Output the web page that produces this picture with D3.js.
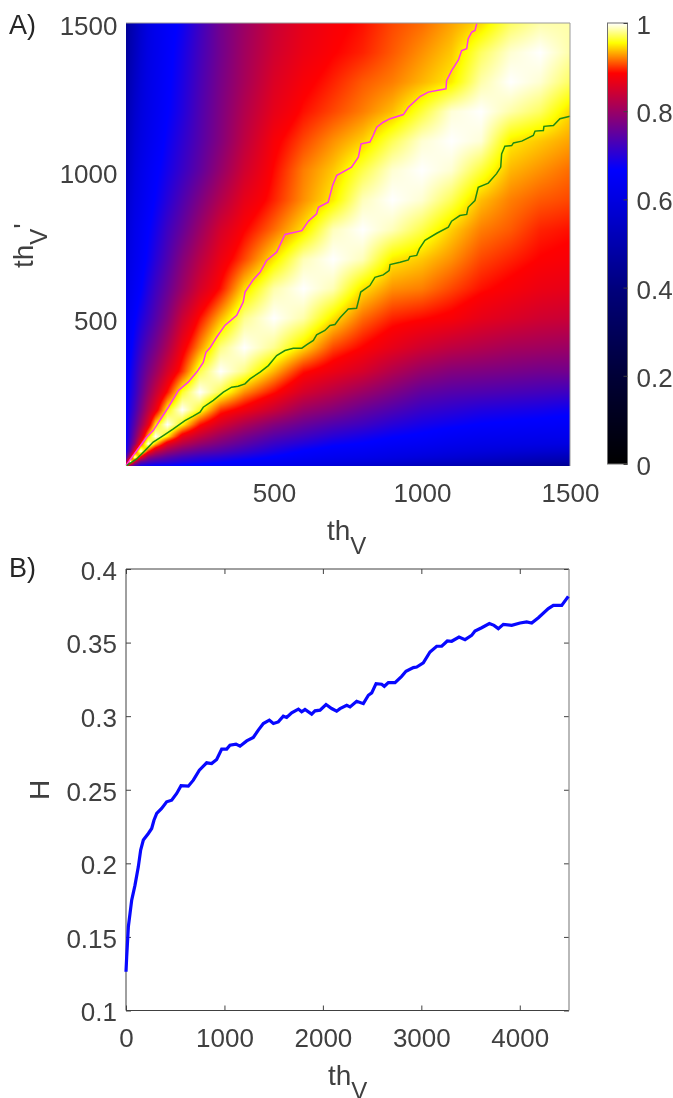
<!DOCTYPE html>
<html><head><meta charset="utf-8">
<script src="https://cdn.jsdelivr.net/npm/d3@7/dist/d3.min.js"></script>
<style>
html,body{margin:0;padding:0;background:#fff;width:673px;height:1098px;overflow:hidden}
#wrap{position:relative;width:673px;height:1098px;overflow:hidden}
canvas,svg{position:absolute;left:0;top:0}
text{font-family:"Liberation Sans",Arial,sans-serif;fill:#404040}
</style></head><body><div id="wrap"></div>
<script>
// A) similarity matrix nodes (symmetric, lower triangle by row)
const nodes=[0,15,30,50,75,100,140,190,250,320,400,500,600,700,800,900,1000,1100,1200,1300,1400,1500];
const matrixRows=[
[1],
[.78,1],
[.72,.85,1],
[.68,.76,.88,1],
[.67,.735,.79,.90,1],
[.665,.72,.77,.84,.94,1],
[.665,.71,.745,.80,.865,.95,1],
[.66,.695,.725,.77,.825,.87,.955,1],
[.655,.685,.71,.75,.795,.835,.89,.962,1],
[.645,.675,.70,.735,.77,.80,.85,.90,.968,1],
[.635,.66,.685,.715,.745,.77,.815,.875,.925,.978,1],
[.62,.645,.665,.69,.715,.74,.78,.84,.89,.935,.98,1],
[.60,.625,.645,.665,.695,.72,.755,.80,.85,.89,.945,.985,1],
[.58,.61,.63,.65,.675,.70,.735,.78,.825,.87,.905,.948,.987,1],
[.56,.595,.62,.64,.665,.685,.72,.755,.80,.85,.885,.915,.947,.988,1],
[.54,.58,.605,.625,.65,.67,.70,.735,.775,.82,.865,.895,.925,.95,.988,1],
[.52,.56,.59,.615,.64,.66,.685,.715,.75,.795,.845,.888,.92,.94,.968,.992,1],
[.505,.545,.575,.60,.625,.645,.675,.705,.74,.78,.83,.88,.905,.925,.942,.97,.992,1],
[.49,.53,.56,.59,.615,.635,.665,.695,.735,.775,.82,.865,.89,.905,.92,.937,.965,.993,1],
[.475,.515,.545,.58,.61,.63,.66,.69,.73,.77,.81,.855,.88,.895,.91,.92,.935,.95,.985,1],
[.455,.50,.53,.57,.605,.625,.655,.685,.725,.765,.805,.845,.87,.885,.895,.91,.925,.94,.972,.992,1],
[.44,.49,.52,.56,.60,.625,.65,.677,.72,.765,.80,.84,.865,.88,.89,.905,.915,.93,.945,.972,.985,.985]
];
const greenX=[2,36,64,92,126,160,199,227,250,261,295,329,357,379,402,419,453,481,509,537,565,594,611,633,644,672,689,706,723,751,779,793,824,841,869,889,892,926,954,959,982,991,1010,1050,1089,1100,1128,1151,1156,1179,1190,1224,1252,1266,1269,1280,1303,1309,1337,1376,1382,1410,1412,1444,1466,1500];
const greenY=[1,24,52,81,103,126,154,169,182,199,222,250,267,270,278,295,318,340,374,391,399,399,411,425,444,459,476,479,502,532,534,589,611,639,647,662,682,690,698,709,713,735,764,788,809,829,848,852,876,899,944,958,990,1012,1057,1083,1085,1094,1100,1119,1134,1136,1150,1153,1176,1184];
const magentaX=[0,36,70,92,121,143,177,210,239,261,270,284,306,334,374,396,402,430,453,475,509,537,594,616,644,650,683,698,712,723,762,785,794,824,835,847,869,892,937,954,993,1021,1081,1083,1100,1123,1134,1151,1156,1168,1179,1185];
const magentaY=[2,52,98,120,165,199,256,284,318,351,385,400,436,476,510,555,589,631,656,696,724,784,797,829,854,876,893,950,984,990,1012,1046,1091,1097,1119,1147,1164,1176,1190,1215,1251,1266,1277,1305,1339,1375,1407,1413,1447,1469,1475,1498];
const mapTicksXY=[500,1000,1500];
const cbTicks=[0,.2,.4,.6,.8,1];
const cmapStops=[0,.2,.4,.6,.667,.886,.955,1];
const cmapColors=["#000000","#000037","#00007d","#0000e1","#0000ff","#ff0000","#ffff00","#ffffff"];
// B) H curve
const thV=[0,7,24,41,58,91,125,149,176,227,261,284,312,362,413,464,515,559,633,684,745,819,870,921,972,1023,1056,1117,1158,1226,1293,1344,1395,1456,1497,1547,1598,1632,1683,1751,1784,1818,1886,1920,1971,2032,2089,2140,2174,2242,2276,2343,2411,2462,2496,2540,2597,2624,2665,2733,2800,2844,2919,2953,3020,3088,3156,3207,3264,3308,3383,3444,3511,3545,3613,3691,3738,3782,3833,3918,4003,4070,4121,4189,4290,4341,4426,4493];
const H=[.1263,.1365,.157,.166,.175,.185,.1976,.209,.2158,.2203,.2237,.2293,.2339,.2373,.2418,.2429,.2475,.2527,.2524,.2565,.2633,.2683,.2678,.2706,.2776,.2776,.2803,.281,.2796,.2832,.2855,.2905,.295,.2973,.295,.2961,.3,.2991,.3023,.3048,.303,.3045,.3014,.3036,.3041,.3079,.3052,.3034,.3051,.3074,.3063,.3101,.3085,.3142,.3158,.3221,.3217,.3203,.3228,.3228,.3271,.3305,.333,.3334,.3362,.3436,.3475,.3475,.3511,.3509,.3538,.352,.3549,.3579,.3601,.3629,.3617,.3595,.3624,.3617,.3633,.364,.3633,.3669,.3731,.3753,.3753,.3814];
const hTicksX=[0,1000,2000,3000,4000];
const hTicksY=[.1,.15,.2,.25,.3,.35,.4];

const A={l:126,r:570,t:23,b:466}, B={l:126,r:569,t:569,b:1010.5}, C={l:607.5,r:627.5,t:23,b:464};
const x=d3.scaleLinear().domain([0,1500]).range([A.l,A.r]);
const y=d3.scaleLinear().domain([0,1500]).range([A.b,A.t]);
const color=d3.scaleLinear().domain(cmapStops).range(cmapColors).clamp(true);
const wrap=d3.select("#wrap");
const val=(i,j)=>i>=j?matrixRows[i][j]:matrixRows[j][i];
const cellIndex=v=>Math.min(nodes.length-2,Math.max(0,d3.bisectRight(nodes,v)-1));
function sample(u,v){
  const i=cellIndex(u),j=cellIndex(v);
  const fu=(u-nodes[i])/(nodes[i+1]-nodes[i]),fv=(v-nodes[j])/(nodes[j+1]-nodes[j]);
  return d3.interpolateNumber(
    d3.interpolateNumber(val(i,j),val(i+1,j))(fu),
    d3.interpolateNumber(val(i,j+1),val(i+1,j+1))(fu))(fv);
}
const W=A.r-A.l,Hh=A.b-A.t;
const cv=wrap.append("canvas").attr("width",W).attr("height",Hh)
  .style("left",A.l+"px").style("top",A.t+"px").node();
const ctx=cv.getContext("2d");
for(let px=0;px<W;px++)for(let py=0;py<Hh;py++){
  ctx.fillStyle=color(sample(x.invert(A.l+px+.5),y.invert(A.t+py+.5)));
  ctx.fillRect(px,py,1,1);
}
const cc=wrap.append("canvas").attr("width",C.r-C.l+1).attr("height",C.b-C.t)
  .style("left",Math.floor(C.l)+"px").style("top",C.t+"px").node();
const cctx=cc.getContext("2d");
const cy=d3.scaleLinear().domain([0,1]).range([C.b,C.t]);
for(let py=0;py<C.b-C.t;py++){cctx.fillStyle=color(cy.invert(C.t+py+.5));cctx.fillRect(0,py,30,1);}

const svg=wrap.append("svg").attr("width",673).attr("height",1098);
const fs=26;
function styleAxis(g,dy){
  g.selectAll("text").style("font-size",fs+"px").attr("fill","#404040").style("font-family",'"Liberation Sans",Arial,sans-serif');
  if(dy)g.selectAll("text").attr("dy",dy);
  g.selectAll("line").attr("stroke","#404040").attr("stroke-width",1);
  g.select(".domain").remove();
}
// A axes
const lineGen=(xs,ys)=>d3.line().x((d,i)=>x(xs[i])).y((d,i)=>y(ys[i]))(xs);
svg.append("path").attr("d",lineGen(magentaX,magentaY)).attr("fill","none").attr("stroke","#ff33ee").attr("stroke-width",1.5);
svg.append("path").attr("d",lineGen(greenX,greenY)).attr("fill","none").attr("stroke","#1f8a12").attr("stroke-width",1.5);
svg.append("g").attr("transform",`translate(0,${A.b})`)
  .call(d3.axisBottom(x).tickValues(mapTicksXY).tickFormat(d3.format("d")).tickSize(0).tickPadding(18)).call(g=>styleAxis(g));
svg.append("g").attr("transform",`translate(${A.l},0)`)
  .call(d3.axisLeft(y).tickValues(mapTicksXY).tickFormat(d3.format("d")).tickSize(0).tickPadding(8.5)).call(g=>styleAxis(g,"0.44em"));
svg.append("path").attr("d",`M${A.l},${A.t}H${A.r}V${A.b}`).attr("fill","none").attr("stroke","#9a9a9a").attr("stroke-width",1);
// colorbar
svg.append("rect").attr("x",C.l).attr("y",C.t).attr("width",C.r-C.l).attr("height",C.b-C.t).attr("fill","none").attr("stroke","#707070").attr("stroke-width",1);
svg.append("g").attr("transform",`translate(${C.r},0)`)
  .call(d3.axisRight(cy).tickValues(cbTicks).tickFormat(d3.format("~g")).tickSize(-4).tickPadding(9)).call(g=>styleAxis(g,"0.4em"));
// B axes
const bx=d3.scaleLinear().domain([0,4500]).range([B.l,B.r]);
const by=d3.scaleLinear().domain([.1,.4]).range([B.b,B.t]);
svg.append("g").attr("transform",`translate(0,${B.b})`)
  .call(d3.axisBottom(bx).tickValues(hTicksX).tickFormat(d3.format("d")).tickSize(-5).tickPadding(18)).call(g=>styleAxis(g));
svg.append("g").attr("transform",`translate(${B.l},0)`)
  .call(d3.axisLeft(by).tickValues(hTicksY).tickFormat(d3.format("~g")).tickSize(-5).tickPadding(9)).call(g=>styleAxis(g,"0.4em"));
svg.append("g").attr("transform",`translate(0,${B.t})`)
  .call(d3.axisTop(bx).tickValues(hTicksX).tickFormat("").tickSize(-5)).call(g=>styleAxis(g));
svg.append("g").attr("transform",`translate(${B.r},0)`)
  .call(d3.axisRight(by).tickValues(hTicksY).tickFormat("").tickSize(-5)).call(g=>styleAxis(g));
svg.append("path").attr("d",`M${B.l},${B.t}V${B.b}H${B.r}`).attr("fill","none").attr("stroke","#404040").attr("stroke-width",1);
svg.append("path").attr("d",`M${B.l},${B.t}H${B.r}`).attr("fill","none").attr("stroke","#404040").attr("stroke-width",1);
svg.append("path").attr("d",`M${B.r},${B.t}V${B.b}`).attr("fill","none").attr("stroke","#8a8a8a").attr("stroke-width",1.2);
svg.append("path").attr("d",d3.line().x((d,i)=>bx(d)).y((d,i)=>by(H[i]))(thV)).attr("fill","none").attr("stroke","#0808ff").attr("stroke-width",3.2);
// labels
function label(tx,ty,main,sub,extra,rot){
  const t=svg.append("text").attr("transform",`translate(${tx},${ty})`+(rot?" rotate(-90)":"")).style("font-size","28px").text(main);
  if(sub)t.append("tspan").attr("dy",14).style("font-size","24px").text(sub);
  if(extra)t.append("tspan").attr("dy",-14).style("font-size","28px").text(extra);
}
label(327,540,"th","V");
label(33,268,"th","V","'",true);
label(328,1085,"th","V");
label(49,800,"H",null,null,true);
svg.append("text").attr("x",9).attr("y",34).style("font-size","27px").style("fill","#262626").text("A)");
svg.append("text").attr("x",9).attr("y",577).style("font-size","27px").style("fill","#262626").text("B)");
</script></body></html>
